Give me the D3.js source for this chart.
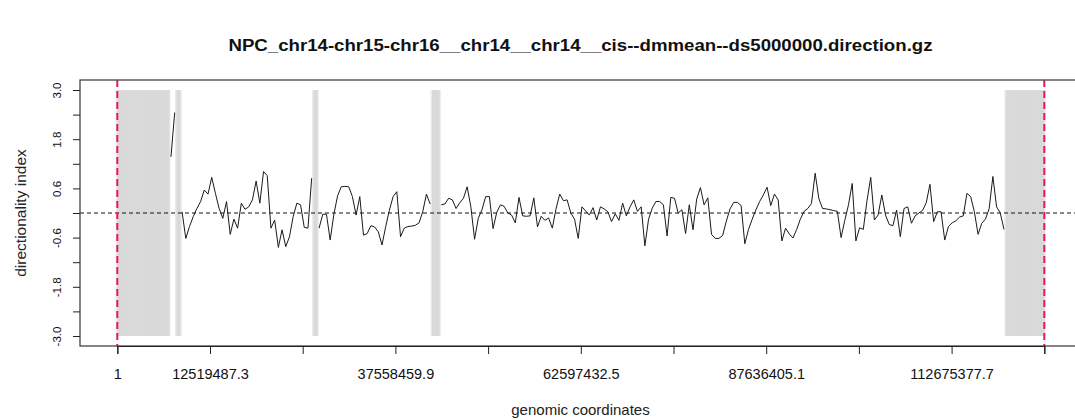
<!DOCTYPE html>
<html>
<head>
<meta charset="utf-8">
<script src="https://d3js.org/d3.v7.min.js"></script>
<style>
html,body{margin:0;padding:0;background:#fff;}
svg text{font-family:"Liberation Sans",Arial,Helvetica,sans-serif;}
</style>
</head>
<body>
<svg id="chart" width="1075" height="420"></svg>
<script>
// ---------------- data ----------------
const chartTitle = "NPC_chr14-chr15-chr16__chr14__chr14__cis--dmmean--ds5000000.direction.gz";
const xTitle = "genomic coordinates";
const yTitle = "directionality index";
const chromStart = 1;
const chromEnd = 125194864;
const binSize = 500000;

// directionality index per 500 kb bin (null = no data, drawn as grey band)
const diValues = [
  null,null,null,null,null,null,null,null,null,null,null,null,null,null,
  1.37,2.45,null,
  0.03,-0.62,-0.33,-0.09,0.11,0.28,0.56,0.46,0.87,0.48,
  0.11,-0.13,0.28,-0.52,-0.15,-0.37,0.24,0.09,0.15,0.32,
  0.78,0.24,1.01,0.91,-0.37,-0.17,-0.84,-0.41,-0.82,-0.58,
  -0.09,0.24,0.2,-0.35,-0.37,0.85,null,-0.37,-0.03,-0.03,
  -0.66,-0.03,0.42,0.64,0.65,0.64,0.4,-0.05,0.4,-0.54,
  -0.5,-0.31,-0.34,-0.46,-0.78,-0.33,0.07,0.4,0.52,-0.58,
  -0.37,-0.33,-0.32,-0.3,-0.24,0.03,0.46,0.22,null,null,
  0.2,0.22,0.36,0.32,0.11,0.25,0.36,0.64,0.15,-0.64,
  -0.13,0.08,0.4,0.4,-0.38,0.02,0.2,0.16,0.0,-0.05,
  -0.24,0.38,-0.07,-0.08,-0.07,0.37,-0.34,-0.08,-0.18,-0.12,
  -0.37,0.1,0.46,0.3,0.32,0.0,-0.15,-0.62,0.15,0.05,
  -0.05,0.13,-0.17,0.15,0.1,0.03,-0.21,-0.02,-0.18,0.24,
  -0.07,0.15,0.32,0.04,0.15,-0.8,-0.15,0.12,0.28,0.28,
  0.2,-0.56,0.38,0.36,0.0,0.08,-0.5,0.2,-0.41,0.34,
  0.62,0.2,0.37,-0.52,-0.62,-0.62,-0.55,-0.2,0.1,0.26,
  0.26,0.18,-0.75,-0.4,-0.15,0.08,0.28,0.44,0.63,0.18,
  0.46,0.32,-0.68,-0.37,-0.51,-0.61,-0.4,-0.15,0.04,0.11,
  0.23,0.97,0.35,0.11,0.1,0.08,0.06,0.04,-0.6,-0.18,
  0.2,0.72,-0.68,-0.36,-0.4,0.3,0.87,-0.17,-0.05,0.44,
  -0.05,-0.28,-0.31,0.07,-0.58,0.11,0.15,-0.25,-0.07,0.0,
  0.06,0.25,0.7,-0.21,0.03,0.03,-0.66,-0.33,-0.24,-0.19,
  -0.1,-0.07,0.48,0.4,0.03,-0.52,-0.25,-0.15,0.11,0.89,
  0.15,0.0,-0.4,
  null,null,null,null,null,null,null,null,null,null,null
];

const xTickValues = [1, 12519487.3, 25038973.6, 37558459.9, 50077946.2, 62597432.5,
                     75116918.8, 87636405.1, 100155891.4, 112675377.7, 125194864];
const xTickLabels = ["1","12519487.3","","37558459.9","","62597432.5",
                     "","87636405.1","","112675377.7",""];
const yTickValues = [-3.0,-2.4,-1.8,-1.2,-0.6,0,0.6,1.2,1.8,2.4,3.0];
const yTickLabels = ["-3.0","","-1.8","","-0.6","","0.6","","1.8","","3.0"];

// ---------------- drawing ----------------
const svg = d3.select("#chart");
const box = {left:80, right:1081, top:80, bottom:346};

const x = d3.scaleLinear().domain([chromStart, chromEnd]).range([117.3, 1044.3]);
const y = d3.scaleLinear().domain([-3, 3]).range([336, 90]);

const bins = diValues.map((v,i)=>({
  i, v,
  start: i*binSize,
  end: Math.min((i+1)*binSize, chromEnd),
  mid: Math.min(i*binSize + binSize/2, chromEnd)
}));

const plot = svg.append("g");
plot.append("clipPath").attr("id","clip").append("rect")
  .attr("x",box.left).attr("y",box.top).attr("width",box.right-box.left).attr("height",box.bottom-box.top);

// soft halo + grey bands for missing bins
const naBins = bins.filter(d=>d.v===null);
plot.append("g").selectAll("rect")
  .data(naBins)
  .join("rect")
  .attr("x", d=>x(d.start)-1.5)
  .attr("width", d=>x(d.end)-x(d.start)+3)
  .attr("y", y(3))
  .attr("height", y(-3)-y(3))
  .attr("fill", "#ebebeb");
plot.append("g").selectAll("rect")
  .data(naBins)
  .join("rect")
  .attr("x", d=>x(d.start))
  .attr("width", d=>x(d.end)-x(d.start)+0.3)
  .attr("y", y(3))
  .attr("height", y(-3)-y(3))
  .attr("fill", "#d9d9d9");

// zero line
plot.append("line")
  .attr("x1",box.left).attr("x2",box.right)
  .attr("y1",y(0)).attr("y2",y(0))
  .attr("stroke","#111").attr("stroke-width",1).attr("stroke-dasharray","4,3");

// DI line
const line = d3.line()
  .defined(d=>d.v!==null)
  .x(d=>x(d.mid))
  .y(d=>y(d.v));
plot.append("path")
  .datum(bins)
  .attr("d", line)
  .attr("fill","none")
  .attr("stroke","#1a1a1a")
  .attr("stroke-width",1)
  .attr("stroke-linejoin","round");

// red dashed chromosome bounds
plot.append("g").attr("clip-path","url(#clip)").selectAll("line")
  .data([chromStart, chromEnd])
  .join("line")
  .attr("x1",d=>x(d)).attr("x2",d=>x(d))
  .attr("y1",box.top).attr("y2",box.bottom)
  .attr("stroke","#ee1656").attr("stroke-width",2).attr("stroke-dasharray","7,4");

// box
svg.append("rect")
  .attr("x",box.left).attr("y",box.top)
  .attr("width",box.right-box.left).attr("height",box.bottom-box.top)
  .attr("fill","none").attr("stroke","#444").attr("stroke-width",1.3);

// x axis
const xAxis = d3.axisBottom(x)
  .tickValues(xTickValues)
  .tickSize(8)
  .tickFormat((d,i)=>xTickLabels[i]);
const gx = svg.append("g").attr("transform",`translate(0,${box.bottom})`).call(xAxis);
gx.select(".domain").attr("stroke","#222").attr("stroke-width",1.2);
gx.selectAll(".tick line").attr("stroke","#222");
gx.selectAll(".tick text").attr("font-size","14.5px").attr("fill","#111").attr("dy","1.55em")
  .attr("font-family","'Liberation Sans',Arial,sans-serif");

// y axis
const yAxis = d3.axisLeft(y)
  .tickValues(yTickValues)
  .tickSize(7)
  .tickFormat((d,i)=>yTickLabels[i]);
const gy = svg.append("g").attr("transform",`translate(${box.left},0)`).call(yAxis);
gy.select(".domain").remove();
gy.selectAll(".tick line").attr("stroke","#222");
gy.selectAll(".tick text")
  .attr("font-size","11.5px").attr("fill","#111")
  .attr("font-family","'Liberation Sans',Arial,sans-serif")
  .attr("text-anchor","middle")
  .attr("x",null).attr("dy",null)
  .attr("transform","translate(-19,0) rotate(-90)")
  .attr("y",0).attr("dy","0");

// titles
svg.append("text")
  .attr("x",(box.left+box.right)/2).attr("y",51)
  .attr("text-anchor","middle")
  .attr("font-size","16px").attr("font-weight","bold").attr("fill","#111")
  .attr("textLength",704).attr("lengthAdjust","spacingAndGlyphs")
  .text(chartTitle);

svg.append("text")
  .attr("x",(box.left+box.right)/2).attr("y",415)
  .attr("text-anchor","middle")
  .attr("font-size","15px").attr("fill","#222")
  .text(xTitle);

svg.append("text")
  .attr("transform",`translate(26,${y(0)}) rotate(-90)`)
  .attr("text-anchor","middle")
  .attr("font-size","15.5px").attr("fill","#222")
  .text(yTitle);
</script>
</body>
</html>
